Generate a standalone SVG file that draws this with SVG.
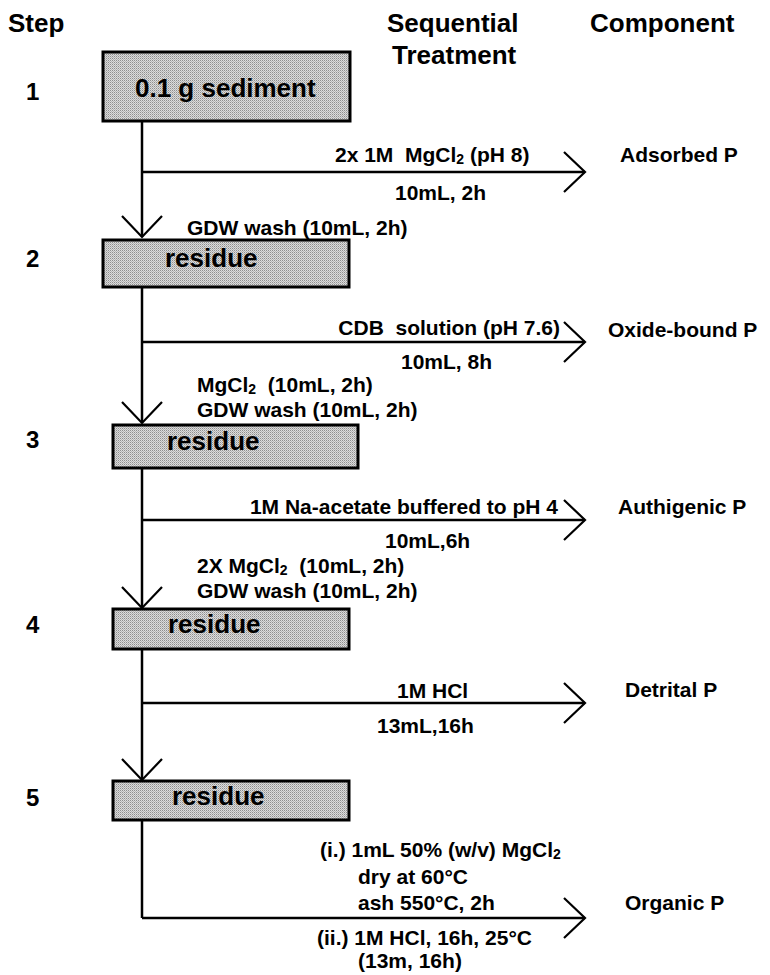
<svg xmlns="http://www.w3.org/2000/svg" width="770" height="975" viewBox="0 0 770 975">
<defs>
<pattern id="dither" width="2" height="2" patternUnits="userSpaceOnUse">
<rect width="2" height="2" fill="#dcdcdc"/>
<rect width="1" height="1" fill="#8e8e8e"/>
<rect x="1" y="1" width="1" height="1" fill="#b4b4b4"/>
</pattern>
<marker id="chev" viewBox="0 0 24 44" refX="22" refY="22" markerWidth="24" markerHeight="44" markerUnits="userSpaceOnUse" orient="auto">
<path d="M1,2 L22,22 L1,42" fill="none" stroke="#000" stroke-width="2.2"/>
</marker>
</defs>
<style>
text{font-family:"Liberation Sans",Arial,sans-serif;font-weight:bold;fill:#000}
.hd{font-size:26px}
.num{font-size:24px}
.bx{font-size:26px}
.t{font-size:21px}
.box{fill:url(#dither);stroke:#000;stroke-width:3}
.ln{stroke:#000;stroke-width:2.5;fill:none}
.sub{font-size:14px}
</style>
<g id="headers">
<text class="hd" x="8" y="32">Step</text>
<text class="hd" x="387" y="32">Sequential</text>
<text class="hd" x="392" y="64">Treatment</text>
<text class="hd" x="590" y="32">Component</text>
</g>
<g id="step-numbers">
<text class="num" x="26" y="100">1</text>
<text class="num" x="26" y="267">2</text>
<text class="num" x="26" y="448">3</text>
<text class="num" x="26" y="633">4</text>
<text class="num" x="26" y="806">5</text>
</g>
<g id="connectors">
<line class="ln" x1="142" y1="121" x2="142" y2="237" marker-end="url(#chev)"/>
<line class="ln" x1="142" y1="287" x2="142" y2="423" marker-end="url(#chev)"/>
<line class="ln" x1="142" y1="468" x2="142" y2="608" marker-end="url(#chev)"/>
<line class="ln" x1="142" y1="649" x2="142" y2="780" marker-end="url(#chev)"/>
<line class="ln" x1="142" y1="820" x2="142" y2="918"/>
<line class="ln" x1="142" y1="172" x2="585" y2="172" marker-end="url(#chev)"/>
<line class="ln" x1="142" y1="342" x2="585" y2="342" marker-end="url(#chev)"/>
<line class="ln" x1="142" y1="520" x2="585" y2="520" marker-end="url(#chev)"/>
<line class="ln" x1="142" y1="703" x2="585" y2="703" marker-end="url(#chev)"/>
<line class="ln" x1="142" y1="918" x2="585" y2="918" marker-end="url(#chev)"/>
</g>
<g id="node-sediment">
<rect class="box" x="103" y="52" width="247" height="69"/>
<text class="bx" x="135" y="97">0.1 g sediment</text>
</g>
<g id="node-residue2">
<rect class="box" x="103" y="240" width="246" height="47"/>
<text class="bx" x="165" y="267">residue</text>
</g>
<g id="node-residue3">
<rect class="box" x="113" y="425" width="245" height="43"/>
<text class="bx" x="167" y="450">residue</text>
</g>
<g id="node-residue4">
<rect class="box" x="113" y="609" width="236" height="40"/>
<text class="bx" x="168" y="633">residue</text>
</g>
<g id="node-residue5">
<rect class="box" x="113" y="781" width="236" height="39"/>
<text class="bx" x="172" y="805">residue</text>
</g>
<g id="labels-step1">
<text class="t" x="335" y="162" xml:space="preserve">2x 1M  MgCl<tspan class="sub" dy="2">2</tspan><tspan dy="-2"> (pH 8)</tspan></text>
<text class="t" x="395" y="200">10mL, 2h</text>
<text class="t" x="620" y="162">Adsorbed P</text>
<text class="t" x="187" y="235">GDW wash (10mL, 2h)</text>
</g>
<g id="labels-step2">
<text class="t" x="560" y="335" text-anchor="end" xml:space="preserve">CDB  solution (pH 7.6)</text>
<text class="t" x="401" y="369">10mL, 8h</text>
<text class="t" x="608" y="337">Oxide-bound P</text>
<text class="t" x="197" y="392" xml:space="preserve">MgCl<tspan class="sub" dy="2">2</tspan><tspan dy="-2">  (10mL, 2h)</tspan></text>
<text class="t" x="197" y="417">GDW wash (10mL, 2h)</text>
</g>
<g id="labels-step3">
<text class="t" x="558" y="514" text-anchor="end">1M Na-acetate buffered to pH 4</text>
<text class="t" x="385" y="548">10mL,6h</text>
<text class="t" x="618" y="514">Authigenic P</text>
<text class="t" x="197" y="573" xml:space="preserve">2X MgCl<tspan class="sub" dy="2">2</tspan><tspan dy="-2">  (10mL, 2h)</tspan></text>
<text class="t" x="197" y="598">GDW wash (10mL, 2h)</text>
</g>
<g id="labels-step4">
<text class="t" x="397" y="698">1M HCl</text>
<text class="t" x="377" y="733">13mL,16h</text>
<text class="t" x="625" y="697">Detrital P</text>
</g>
<g id="labels-step5">
<text class="t" x="320" y="857">(i.) 1mL 50% (w/v) MgCl<tspan class="sub" dy="2">2</tspan></text>
<text class="t" x="358" y="884">dry at 60°C</text>
<text class="t" x="358" y="910">ash 550°C, 2h</text>
<text class="t" x="317" y="945">(ii.) 1M HCl, 16h, 25°C</text>
<text class="t" x="358" y="968">(13m, 16h)</text>
<text class="t" x="625" y="910">Organic P</text>
</g>
</svg>
